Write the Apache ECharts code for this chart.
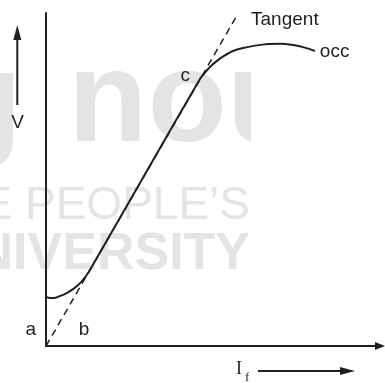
<!DOCTYPE html>
<html>
<head>
<meta charset="utf-8">
<script src="https://cdn.jsdelivr.net/npm/echarts@6/dist/echarts.min.js"></script>
<style>html,body{margin:0;padding:0;background:#fff;}#c{width:385px;height:383px;}</style>
</head>
<body>
<div id="c"></div>
<script>
// Open-circuit characteristic (field current I_f vs voltage V), arbitrary units 0-100
const occIf = [0, 1.2, 2.4, 3.9, 6.2, 8.4, 10.5, 12.6, 15.3, 31.1, 46.1, 47.6, 49.1, 50.9, 53.3, 56.0, 59.0, 62.6, 66.5, 70.1, 74.0, 77.5, 80.5];
const occV  = [14.7, 14.4, 14.4, 14.9, 15.9, 17.3, 19.2, 21.9, 26.6, 54.1, 80.2, 82.1, 83.8, 85.4, 87.1, 88.6, 89.5, 90.2, 90.7, 90.8, 90.4, 89.6, 88.6];
const tangentIf = [0, 56.9];
const tangentV  = [0, 98.8];
const pointC = 10;          // index of point "c" on the occ
const pointBIf = 11.4;      // position of label "b" on the I_f axis
const watermark = ['g', 'nou', 'THE PEOPLE\u2019S', 'UNIVERSITY'];

const ink = '#231f20';
const wm = '#e4e4e4';
const font = 'Liberation Sans';
const lbl = {fontSize: 19, fontFamily: font, color: ink};

const occData = occIf.map((x, i) => {
  const d = {value: [x, occV[i]]};
  if (i === pointC) d.label = Object.assign({show: true, formatter: 'c', position: 'left', distance: 10, offset: [0, -3]}, lbl);
  if (i === occIf.length - 1) d.label = Object.assign({show: true, formatter: 'occ', position: 'right', distance: 5, offset: [0, 1]}, lbl);
  return d;
});
const tanData = tangentIf.map((x, i) => {
  const d = {value: [x, tangentV[i]]};
  if (i === 0) d.label = Object.assign({show: true, formatter: 'a', position: 'left', distance: 10, offset: [0, -16]}, lbl);
  if (i === tangentIf.length - 1) d.label = Object.assign({show: true, formatter: 'Tangent', position: 'right', distance: 15, offset: [0, 3]}, lbl);
  return d;
});

const chart = echarts.init(document.getElementById('c'), null, {renderer: 'canvas'});
chart.setOption({
  animation: false,
  backgroundColor: '#fff',
  grid: {left: 46, right: 5, top: 13, bottom: 37, containLabel: false},
  xAxis: {
    type: 'value', min: 0, max: 100, z: 5,
    axisLine: {show: true, onZero: false, lineStyle: {color: ink, width: 2}, symbol: ['none', 'triangle'], symbolSize: [8, 10]},
    axisTick: {show: false}, axisLabel: {show: false}, splitLine: {show: false}
  },
  yAxis: {
    type: 'value', min: 0, max: 100, z: 5,
    axisLine: {show: true, onZero: false, lineStyle: {color: ink, width: 2}},
    axisTick: {show: false}, axisLabel: {show: false}, splitLine: {show: false}
  },
  graphic: [
    {type: 'text', z: 0, x: 22, y: 105, style: {text: watermark[0], fill: wm, font: 'bold 130px "' + font + '"', align: 'right', verticalAlign: 'middle'}},
    {type: 'text', z: 0, x: 68, y: 105, style: {text: watermark[1], fill: wm, font: 'bold 130px "' + font + '"', align: 'left', verticalAlign: 'middle'}},
    {type: 'text', z: 0, x: 250, y: 206, style: {text: watermark[2], fill: wm, font: '46px "' + font + '"', align: 'right', verticalAlign: 'middle'}},
    {type: 'text', z: 0, x: -62, y: 255, style: {text: watermark[3], fill: wm, font: 'bold 52px "' + font + '"', align: 'left', verticalAlign: 'middle'}},
    // watermark is cut off at its right edge
    {type: 'rect', z: 1, shape: {x: 251, y: 0, width: 140, height: 300}, style: {fill: '#fff'}},
    // V arrow
    {type: 'line', z: 10, shape: {x1: 17.3, y1: 105, x2: 17.3, y2: 38}, style: {stroke: ink, lineWidth: 2}},
    {type: 'polygon', z: 10, shape: {points: [[17.3, 25], [13.3, 40], [21.3, 40]]}, style: {fill: ink}},
    {type: 'text', z: 10, x: 17.5, y: 123, style: {text: 'V', fill: ink, font: '19px "' + font + '"', align: 'center', verticalAlign: 'middle'}},
    // I_f arrow
    {type: 'line', z: 10, shape: {x1: 258, y1: 371, x2: 343, y2: 371}, style: {stroke: ink, lineWidth: 2}},
    {type: 'polygon', z: 10, shape: {points: [[355, 371], [340, 367], [340, 375]]}, style: {fill: ink}},
    {type: 'text', z: 10, x: 236, y: 369, style: {text: 'I', fill: ink, font: '18px "Liberation Serif"', align: 'left', verticalAlign: 'middle'}},
    {type: 'text', z: 10, x: 245, y: 377.6, style: {text: 'f', fill: ink, font: '13px "Liberation Serif"', align: 'left', verticalAlign: 'middle'}}
  ],
  series: [
    {
      type: 'line', name: 'Tangent', data: tanData, symbol: 'circle', symbolSize: 0, showSymbol: true,
      lineStyle: {color: ink, width: 1.5, type: [7, 5]}, itemStyle: {color: ink}, z: 3,
      markPoint: {
        symbol: 'circle', symbolSize: 0,
        data: [{coord: [pointBIf, 0], label: Object.assign({show: true, formatter: 'b', position: 'inside', offset: [0, -16]}, lbl)}]
      }
    },
    {
      type: 'line', name: 'occ', data: occData, smooth: 0.2, symbol: 'circle', symbolSize: 0, showSymbol: true,
      lineStyle: {color: ink, width: 2}, itemStyle: {color: ink}, z: 4
    }
  ]
});
</script>
</body>
</html>
